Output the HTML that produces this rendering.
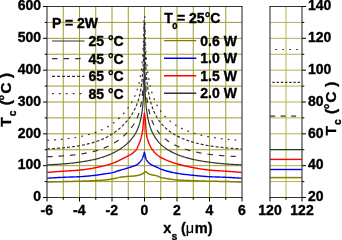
<!DOCTYPE html>
<html><head><meta charset="utf-8"><style>
html,body{margin:0;padding:0;background:#fff;}
svg{display:block;will-change:transform;}
</style></head><body>
<svg width="342" height="240" viewBox="0 0 342 240">
<rect width="342" height="240" fill="#fff"/>
<line x1="63.25" y1="6.5" x2="63.25" y2="197.5" stroke="#a09c30" stroke-width="1"/>
<line x1="79.50" y1="6.5" x2="79.50" y2="197.5" stroke="#a09c30" stroke-width="1"/>
<line x1="95.75" y1="6.5" x2="95.75" y2="197.5" stroke="#a09c30" stroke-width="1"/>
<line x1="112.00" y1="6.5" x2="112.00" y2="197.5" stroke="#a09c30" stroke-width="1"/>
<line x1="128.25" y1="6.5" x2="128.25" y2="197.5" stroke="#a09c30" stroke-width="1"/>
<line x1="144.50" y1="6.5" x2="144.50" y2="197.5" stroke="#a09c30" stroke-width="1"/>
<line x1="160.75" y1="6.5" x2="160.75" y2="197.5" stroke="#a09c30" stroke-width="1"/>
<line x1="177.00" y1="6.5" x2="177.00" y2="197.5" stroke="#a09c30" stroke-width="1"/>
<line x1="193.25" y1="6.5" x2="193.25" y2="197.5" stroke="#a09c30" stroke-width="1"/>
<line x1="209.50" y1="6.5" x2="209.50" y2="197.5" stroke="#a09c30" stroke-width="1"/>
<line x1="225.75" y1="6.5" x2="225.75" y2="197.5" stroke="#a09c30" stroke-width="1"/>
<line x1="47.0" y1="181.58" x2="242.0" y2="181.58" stroke="#a09c30" stroke-width="1"/>
<line x1="47.0" y1="165.67" x2="242.0" y2="165.67" stroke="#a09c30" stroke-width="1"/>
<line x1="47.0" y1="149.75" x2="242.0" y2="149.75" stroke="#a09c30" stroke-width="1"/>
<line x1="47.0" y1="133.83" x2="242.0" y2="133.83" stroke="#a09c30" stroke-width="1"/>
<line x1="47.0" y1="117.92" x2="242.0" y2="117.92" stroke="#a09c30" stroke-width="1"/>
<line x1="47.0" y1="102.00" x2="242.0" y2="102.00" stroke="#a09c30" stroke-width="1"/>
<line x1="47.0" y1="86.08" x2="242.0" y2="86.08" stroke="#a09c30" stroke-width="1"/>
<line x1="47.0" y1="70.17" x2="242.0" y2="70.17" stroke="#a09c30" stroke-width="1"/>
<line x1="47.0" y1="54.25" x2="242.0" y2="54.25" stroke="#a09c30" stroke-width="1"/>
<line x1="47.0" y1="38.33" x2="242.0" y2="38.33" stroke="#a09c30" stroke-width="1"/>
<line x1="47.0" y1="22.42" x2="242.0" y2="22.42" stroke="#a09c30" stroke-width="1"/>
<line x1="286.00" y1="6.5" x2="286.00" y2="197.5" stroke="#b6b248" stroke-width="1"/>
<line x1="270.0" y1="181.58" x2="302.0" y2="181.58" stroke="#b6b248" stroke-width="1"/>
<line x1="270.0" y1="165.67" x2="302.0" y2="165.67" stroke="#b6b248" stroke-width="1"/>
<line x1="270.0" y1="149.75" x2="302.0" y2="149.75" stroke="#b6b248" stroke-width="1"/>
<line x1="270.0" y1="133.83" x2="302.0" y2="133.83" stroke="#b6b248" stroke-width="1"/>
<line x1="270.0" y1="117.92" x2="302.0" y2="117.92" stroke="#b6b248" stroke-width="1"/>
<line x1="270.0" y1="102.00" x2="302.0" y2="102.00" stroke="#b6b248" stroke-width="1"/>
<line x1="270.0" y1="86.08" x2="302.0" y2="86.08" stroke="#b6b248" stroke-width="1"/>
<line x1="270.0" y1="70.17" x2="302.0" y2="70.17" stroke="#b6b248" stroke-width="1"/>
<line x1="270.0" y1="54.25" x2="302.0" y2="54.25" stroke="#b6b248" stroke-width="1"/>
<line x1="270.0" y1="38.33" x2="302.0" y2="38.33" stroke="#b6b248" stroke-width="1"/>
<line x1="270.0" y1="22.42" x2="302.0" y2="22.42" stroke="#b6b248" stroke-width="1"/>
<path d="M47.10,182.00 L48.08,181.98 L49.05,181.96 L50.03,181.94 L51.00,181.91 L51.98,181.89 L52.96,181.87 L53.93,181.85 L54.91,181.83 L55.88,181.80 L56.86,181.78 L57.83,181.76 L58.81,181.73 L59.79,181.71 L60.76,181.69 L61.74,181.66 L62.71,181.64 L63.69,181.61 L64.67,181.59 L65.64,181.56 L66.62,181.54 L67.59,181.51 L68.57,181.48 L69.54,181.46 L70.52,181.43 L71.50,181.40 L72.47,181.38 L73.45,181.35 L74.42,181.32 L75.40,181.29 L76.38,181.27 L77.35,181.24 L78.33,181.21 L79.30,181.18 L80.28,181.16 L81.25,181.13 L82.23,181.10 L83.21,181.07 L84.18,181.04 L85.16,181.01 L86.13,180.98 L87.11,180.95 L88.09,180.92 L89.06,180.89 L90.04,180.85 L91.01,180.82 L91.99,180.78 L92.96,180.74 L93.94,180.70 L94.92,180.65 L95.89,180.61 L96.87,180.55 L97.84,180.50 L98.82,180.44 L99.80,180.38 L100.77,180.32 L101.75,180.25 L102.72,180.17 L103.70,180.10 L104.67,180.01 L105.65,179.92 L106.63,179.82 L107.60,179.71 L108.58,179.59 L109.55,179.45 L110.53,179.28 L111.51,179.10 L112.48,178.91 L113.46,178.71 L114.43,178.51 L115.41,178.32 L116.38,178.10 L117.36,177.86 L118.34,177.62 L119.31,177.39 L120.29,177.19 L121.26,177.05 L122.24,176.94 L123.22,176.83 L124.19,176.73 L125.17,176.63 L126.14,176.55 L127.12,176.47 L128.09,176.41 L129.07,176.35 L130.05,176.30 L131.02,176.26 L132.00,176.20 L132.97,176.12 L133.95,176.01 L134.45,175.95 L134.65,175.93 L134.85,175.90 L135.05,175.87 L135.25,175.84 L135.45,175.81 L135.65,175.78 L135.85,175.75 L136.05,175.72 L136.25,175.68 L136.45,175.65 L136.65,175.61 L136.85,175.58 L137.05,175.54 L137.25,175.50 L137.45,175.47 L137.65,175.43 L137.85,175.39 L138.05,175.35 L138.25,175.31 L138.45,175.27 L138.65,175.23 L138.85,175.18 L139.05,175.13 L139.25,175.09 L139.45,175.04 L139.65,174.98 L139.85,174.93 L140.05,174.87 L140.25,174.82 L140.45,174.75 L140.65,174.69 L140.85,174.62 L141.05,174.55 L141.25,174.48 L141.45,174.40 L141.65,174.32 L141.85,174.23 L142.05,174.14 L142.25,174.04 L142.45,173.93 L142.55,173.87 L142.65,173.81 L142.75,173.74 L142.85,173.66 L142.95,173.58 L143.05,173.49 L143.15,173.40 L143.25,173.31 L143.35,173.21 L143.45,173.11 L143.55,173.02 L143.65,172.93 L143.75,172.85 L143.85,172.80 L143.95,172.76 L144.05,172.72 L144.15,172.68 L144.25,172.64 L144.35,172.61 L144.45,172.60 L144.55,172.32 L144.65,172.14 L144.75,172.02 L144.85,171.94 L144.95,171.89 L145.05,171.85 L145.15,171.83 L145.25,171.81 L145.35,171.81 L145.45,171.80 L145.55,171.80 L145.65,171.80 L145.75,171.80 L145.85,171.81 L145.95,171.85 L146.05,171.91 L146.15,171.98 L146.25,172.05 L146.35,172.13 L146.45,172.22 L146.65,172.38 L146.85,172.53 L147.05,172.67 L147.25,172.82 L147.45,172.98 L147.65,173.15 L147.85,173.30 L148.05,173.45 L148.25,173.59 L148.45,173.72 L148.65,173.83 L148.85,173.92 L149.05,174.01 L149.25,174.08 L149.45,174.15 L149.65,174.22 L149.85,174.28 L150.05,174.34 L150.25,174.39 L150.45,174.45 L150.65,174.50 L150.85,174.55 L151.05,174.60 L151.25,174.65 L151.45,174.70 L151.65,174.74 L151.85,174.79 L152.05,174.84 L152.25,174.89 L152.45,174.94 L152.65,174.98 L152.85,175.02 L153.05,175.07 L153.25,175.11 L153.45,175.14 L153.65,175.18 L153.85,175.22 L154.05,175.26 L154.25,175.30 L154.45,175.33 L154.95,175.43 L155.93,175.64 L156.90,175.87 L157.88,176.22 L158.85,176.67 L159.83,177.10 L160.81,177.43 L161.78,177.68 L162.76,177.89 L163.73,178.07 L164.71,178.24 L165.68,178.40 L166.66,178.55 L167.64,178.70 L168.61,178.85 L169.59,179.00 L170.56,179.16 L171.54,179.32 L172.52,179.48 L173.49,179.62 L174.47,179.75 L175.44,179.87 L176.42,179.96 L177.39,180.04 L178.37,180.10 L179.35,180.16 L180.32,180.21 L181.30,180.26 L182.27,180.31 L183.25,180.35 L184.23,180.39 L185.20,180.43 L186.18,180.46 L187.15,180.50 L188.13,180.53 L189.10,180.56 L190.08,180.60 L191.06,180.63 L192.03,180.66 L193.01,180.70 L193.98,180.73 L194.96,180.77 L195.94,180.80 L196.91,180.83 L197.89,180.87 L198.86,180.90 L199.84,180.93 L200.81,180.96 L201.79,180.99 L202.77,181.02 L203.74,181.05 L204.72,181.08 L205.69,181.11 L206.67,181.13 L207.65,181.16 L208.62,181.18 L209.60,181.21 L210.57,181.23 L211.55,181.25 L212.52,181.26 L213.50,181.28 L214.48,181.30 L215.45,181.31 L216.43,181.33 L217.40,181.34 L218.38,181.36 L219.36,181.38 L220.33,181.39 L221.31,181.41 L222.28,181.43 L223.26,181.45 L224.23,181.47 L225.21,181.49 L226.19,181.51 L227.16,181.54 L228.14,181.57 L229.11,181.60 L230.09,181.63 L231.07,181.67 L232.04,181.70 L233.02,181.74 L233.99,181.77 L234.97,181.81 L235.94,181.85 L236.92,181.89 L237.90,181.93 L238.87,181.97 L239.85,182.02 L240.82,182.06 L241.80,182.10" fill="none" stroke="#808000" stroke-width="1.5" />
<path d="M47.10,178.20 L48.08,178.14 L49.05,178.08 L50.03,178.02 L51.00,177.96 L51.98,177.90 L52.96,177.85 L53.93,177.79 L54.91,177.73 L55.88,177.68 L56.86,177.62 L57.83,177.57 L58.81,177.52 L59.79,177.47 L60.76,177.42 L61.74,177.37 L62.71,177.33 L63.69,177.28 L64.67,177.24 L65.64,177.21 L66.62,177.17 L67.59,177.14 L68.57,177.10 L69.54,177.07 L70.52,177.04 L71.50,177.01 L72.47,176.98 L73.45,176.95 L74.42,176.92 L75.40,176.88 L76.38,176.84 L77.35,176.81 L78.33,176.76 L79.30,176.71 L80.28,176.66 L81.25,176.60 L82.23,176.54 L83.21,176.47 L84.18,176.40 L85.16,176.32 L86.13,176.24 L87.11,176.16 L88.09,176.07 L89.06,175.97 L90.04,175.87 L91.01,175.77 L91.99,175.67 L92.96,175.56 L93.94,175.45 L94.92,175.33 L95.89,175.21 L96.87,175.09 L97.84,174.95 L98.82,174.81 L99.80,174.65 L100.77,174.50 L101.75,174.34 L102.72,174.19 L103.70,174.04 L104.67,173.91 L105.65,173.77 L106.63,173.65 L107.60,173.52 L108.58,173.38 L109.55,173.24 L110.53,173.08 L111.51,172.90 L112.48,172.69 L113.46,172.42 L114.43,172.10 L115.41,171.75 L116.38,171.40 L117.36,171.07 L118.34,170.77 L119.31,170.49 L120.29,170.21 L121.26,169.93 L122.24,169.66 L123.22,169.38 L124.19,169.10 L125.17,168.81 L126.14,168.53 L127.12,168.23 L128.09,167.93 L129.07,167.63 L130.05,167.33 L131.02,167.02 L132.00,166.70 L132.97,166.36 L133.95,166.02 L134.45,165.83 L134.65,165.76 L134.85,165.68 L135.05,165.60 L135.25,165.51 L135.45,165.43 L135.65,165.34 L135.85,165.24 L136.05,165.15 L136.25,165.05 L136.45,164.94 L136.65,164.83 L136.85,164.71 L137.05,164.59 L137.25,164.45 L137.45,164.32 L137.65,164.17 L137.85,164.02 L138.05,163.86 L138.25,163.69 L138.45,163.52 L138.65,163.33 L138.85,163.14 L139.05,162.95 L139.25,162.74 L139.45,162.53 L139.65,162.32 L139.85,162.10 L140.05,161.87 L140.25,161.64 L140.45,161.41 L140.65,161.16 L140.85,160.91 L141.05,160.64 L141.25,160.37 L141.45,160.07 L141.65,159.77 L141.85,159.44 L142.05,159.09 L142.25,158.72 L142.45,158.31 L142.55,158.09 L142.65,157.85 L142.75,157.60 L142.85,157.34 L142.95,157.06 L143.05,156.76 L143.15,156.45 L143.25,156.13 L143.35,155.81 L143.45,155.48 L143.55,155.16 L143.65,154.84 L143.75,154.52 L143.85,154.17 L143.95,153.81 L144.05,153.43 L144.15,153.04 L144.25,152.63 L144.35,152.21 L144.45,151.80 L144.55,152.50 L144.65,153.13 L144.75,153.70 L144.85,154.23 L144.95,154.73 L145.05,155.18 L145.15,155.61 L145.25,156.01 L145.35,156.39 L145.45,156.76 L145.55,157.13 L145.65,157.48 L145.75,157.82 L145.85,158.14 L145.95,158.44 L146.05,158.73 L146.15,158.99 L146.25,159.25 L146.35,159.48 L146.45,159.70 L146.65,160.09 L146.85,160.44 L147.05,160.76 L147.25,161.05 L147.45,161.33 L147.65,161.58 L147.85,161.82 L148.05,162.04 L148.25,162.26 L148.45,162.46 L148.65,162.66 L148.85,162.85 L149.05,163.03 L149.25,163.20 L149.45,163.36 L149.65,163.52 L149.85,163.67 L150.05,163.81 L150.25,163.95 L150.45,164.09 L150.65,164.22 L150.85,164.35 L151.05,164.48 L151.25,164.60 L151.45,164.72 L151.65,164.83 L151.85,164.95 L152.05,165.06 L152.25,165.17 L152.45,165.28 L152.65,165.39 L152.85,165.49 L153.05,165.58 L153.25,165.68 L153.45,165.77 L153.65,165.86 L153.85,165.95 L154.05,166.04 L154.25,166.13 L154.45,166.22 L154.95,166.43 L155.93,166.84 L156.90,167.26 L157.88,167.70 L158.85,168.18 L159.83,168.63 L160.81,169.04 L161.78,169.41 L162.76,169.77 L163.73,170.11 L164.71,170.43 L165.68,170.73 L166.66,171.02 L167.64,171.29 L168.61,171.55 L169.59,171.80 L170.56,172.04 L171.54,172.26 L172.52,172.47 L173.49,172.67 L174.47,172.86 L175.44,173.05 L176.42,173.22 L177.39,173.38 L178.37,173.54 L179.35,173.68 L180.32,173.83 L181.30,173.96 L182.27,174.09 L183.25,174.21 L184.23,174.33 L185.20,174.45 L186.18,174.56 L187.15,174.67 L188.13,174.78 L189.10,174.89 L190.08,174.99 L191.06,175.09 L192.03,175.19 L193.01,175.29 L193.98,175.39 L194.96,175.49 L195.94,175.59 L196.91,175.69 L197.89,175.79 L198.86,175.88 L199.84,175.98 L200.81,176.07 L201.79,176.16 L202.77,176.24 L203.74,176.32 L204.72,176.40 L205.69,176.47 L206.67,176.54 L207.65,176.60 L208.62,176.66 L209.60,176.71 L210.57,176.76 L211.55,176.80 L212.52,176.84 L213.50,176.88 L214.48,176.91 L215.45,176.95 L216.43,176.98 L217.40,177.01 L218.38,177.04 L219.36,177.07 L220.33,177.10 L221.31,177.14 L222.28,177.17 L223.26,177.21 L224.23,177.24 L225.21,177.28 L226.19,177.33 L227.16,177.37 L228.14,177.42 L229.11,177.47 L230.09,177.52 L231.07,177.57 L232.04,177.62 L233.02,177.68 L233.99,177.73 L234.97,177.79 L235.94,177.85 L236.92,177.90 L237.90,177.96 L238.87,178.02 L239.85,178.08 L240.82,178.14 L241.80,178.20" fill="none" stroke="#0000ff" stroke-width="1.4" />
<path d="M47.10,172.40 L48.08,172.33 L49.05,172.25 L50.03,172.18 L51.00,172.11 L51.98,172.03 L52.96,171.96 L53.93,171.88 L54.91,171.81 L55.88,171.74 L56.86,171.67 L57.83,171.59 L58.81,171.52 L59.79,171.45 L60.76,171.38 L61.74,171.31 L62.71,171.24 L63.69,171.17 L64.67,171.11 L65.64,171.04 L66.62,170.98 L67.59,170.92 L68.57,170.86 L69.54,170.80 L70.52,170.75 L71.50,170.69 L72.47,170.63 L73.45,170.57 L74.42,170.50 L75.40,170.44 L76.38,170.37 L77.35,170.29 L78.33,170.21 L79.30,170.12 L80.28,170.03 L81.25,169.93 L82.23,169.82 L83.21,169.70 L84.18,169.57 L85.16,169.44 L86.13,169.31 L87.11,169.16 L88.09,169.01 L89.06,168.85 L90.04,168.69 L91.01,168.52 L91.99,168.35 L92.96,168.17 L93.94,167.99 L94.92,167.81 L95.89,167.62 L96.87,167.43 L97.84,167.24 L98.82,167.04 L99.80,166.83 L100.77,166.61 L101.75,166.39 L102.72,166.16 L103.70,165.92 L104.67,165.68 L105.65,165.42 L106.63,165.16 L107.60,164.88 L108.58,164.60 L109.55,164.30 L110.53,163.99 L111.51,163.67 L112.48,163.33 L113.46,162.97 L114.43,162.58 L115.41,162.17 L116.38,161.74 L117.36,161.29 L118.34,160.82 L119.31,160.34 L120.29,159.85 L121.26,159.36 L122.24,158.88 L123.22,158.40 L124.19,157.90 L125.17,157.40 L126.14,156.88 L127.12,156.37 L128.09,155.85 L129.07,155.37 L130.05,154.87 L131.02,154.28 L132.00,153.61 L132.97,152.86 L133.95,152.04 L134.45,151.61 L134.65,151.44 L134.85,151.26 L135.05,151.08 L135.25,150.89 L135.45,150.70 L135.65,150.49 L135.85,150.27 L136.05,150.03 L136.25,149.77 L136.45,149.48 L136.65,149.15 L136.85,148.79 L137.05,148.40 L137.25,147.97 L137.45,147.52 L137.65,147.05 L137.85,146.57 L138.05,146.08 L138.25,145.59 L138.45,145.12 L138.65,144.65 L138.85,144.19 L139.05,143.72 L139.25,143.24 L139.45,142.76 L139.65,142.26 L139.85,141.75 L140.05,141.22 L140.25,140.67 L140.45,140.09 L140.65,139.48 L140.85,138.82 L141.05,138.12 L141.25,137.38 L141.45,136.61 L141.65,135.79 L141.85,134.92 L142.05,133.97 L142.25,132.92 L142.45,131.74 L142.55,131.08 L142.65,130.38 L142.75,129.59 L142.85,128.66 L142.95,127.58 L143.05,126.37 L143.15,125.09 L143.25,123.79 L143.35,122.53 L143.45,121.44 L143.55,120.60 L143.65,119.76 L143.75,118.88 L143.85,117.98 L143.95,117.05 L144.05,116.12 L144.15,115.21 L144.25,114.40 L144.35,113.77 L144.45,113.60 L144.55,113.75 L144.65,114.33 L144.75,115.10 L144.85,115.97 L144.95,116.89 L145.05,117.82 L145.15,118.75 L145.25,119.67 L145.35,120.56 L145.45,121.52 L145.55,122.92 L145.65,124.56 L145.75,126.20 L145.85,127.67 L145.95,128.89 L146.05,130.04 L146.15,131.15 L146.25,132.20 L146.35,133.17 L146.45,134.06 L146.65,135.59 L146.85,136.76 L147.05,137.69 L147.25,138.46 L147.45,139.13 L147.65,139.72 L147.85,140.28 L148.05,140.81 L148.25,141.34 L148.45,141.87 L148.65,142.40 L148.85,142.93 L149.05,143.44 L149.25,143.94 L149.45,144.42 L149.65,144.89 L149.85,145.34 L150.05,145.77 L150.25,146.19 L150.45,146.59 L150.65,146.97 L150.85,147.34 L151.05,147.69 L151.25,148.02 L151.45,148.34 L151.65,148.65 L151.85,148.94 L152.05,149.23 L152.25,149.52 L152.45,149.79 L152.65,150.07 L152.85,150.34 L153.05,150.60 L153.25,150.86 L153.45,151.11 L153.65,151.36 L153.85,151.61 L154.05,151.85 L154.25,152.08 L154.45,152.30 L154.95,152.85 L155.93,153.83 L156.90,154.72 L157.88,155.51 L158.85,156.19 L159.83,156.79 L160.81,157.36 L161.78,157.90 L162.76,158.42 L163.73,158.90 L164.71,159.37 L165.68,159.81 L166.66,160.23 L167.64,160.64 L168.61,161.02 L169.59,161.40 L170.56,161.76 L171.54,162.10 L172.52,162.43 L173.49,162.76 L174.47,163.07 L175.44,163.37 L176.42,163.66 L177.39,163.94 L178.37,164.22 L179.35,164.49 L180.32,164.75 L181.30,165.00 L182.27,165.25 L183.25,165.50 L184.23,165.73 L185.20,165.96 L186.18,166.18 L187.15,166.40 L188.13,166.61 L189.10,166.82 L190.08,167.02 L191.06,167.21 L192.03,167.40 L193.01,167.58 L193.98,167.76 L194.96,167.95 L195.94,168.13 L196.91,168.30 L197.89,168.48 L198.86,168.65 L199.84,168.82 L200.81,168.98 L201.79,169.13 L202.77,169.28 L203.74,169.43 L204.72,169.56 L205.69,169.69 L206.67,169.81 L207.65,169.92 L208.62,170.03 L209.60,170.12 L210.57,170.21 L211.55,170.29 L212.52,170.37 L213.50,170.44 L214.48,170.50 L215.45,170.57 L216.43,170.63 L217.40,170.69 L218.38,170.75 L219.36,170.81 L220.33,170.86 L221.31,170.92 L222.28,170.98 L223.26,171.04 L224.23,171.11 L225.21,171.17 L226.19,171.24 L227.16,171.31 L228.14,171.38 L229.11,171.45 L230.09,171.52 L231.07,171.59 L232.04,171.67 L233.02,171.74 L233.99,171.81 L234.97,171.88 L235.94,171.96 L236.92,172.03 L237.90,172.11 L238.87,172.18 L239.85,172.25 L240.82,172.33 L241.80,172.40" fill="none" stroke="#ff0000" stroke-width="1.4" />
<path d="M47.10,164.86 L48.08,164.82 L49.05,164.77 L50.03,164.73 L51.00,164.68 L51.98,164.63 L52.96,164.58 L53.93,164.53 L54.91,164.47 L55.88,164.41 L56.86,164.35 L57.83,164.29 L58.81,164.23 L59.79,164.16 L60.76,164.09 L61.74,164.02 L62.71,163.94 L63.69,163.87 L64.67,163.79 L65.64,163.70 L66.62,163.62 L67.59,163.53 L68.57,163.44 L69.54,163.34 L70.52,163.24 L71.50,163.14 L72.47,163.03 L73.45,162.93 L74.42,162.81 L75.40,162.70 L76.38,162.58 L77.35,162.45 L78.33,162.32 L79.30,162.19 L80.28,162.05 L81.25,161.91 L82.23,161.76 L83.21,161.61 L84.18,161.46 L85.16,161.29 L86.13,161.12 L87.11,160.95 L88.09,160.77 L89.06,160.58 L90.04,160.39 L91.01,160.19 L91.99,159.98 L92.96,159.77 L93.94,159.55 L94.92,159.32 L95.89,159.08 L96.87,158.83 L97.84,158.58 L98.82,158.31 L99.80,158.03 L100.77,157.75 L101.75,157.45 L102.72,157.14 L103.70,156.82 L104.67,156.49 L105.65,156.14 L106.63,155.78 L107.60,155.41 L108.58,155.02 L109.55,154.62 L110.53,154.20 L111.51,153.76 L112.48,153.31 L113.46,152.84 L114.43,152.35 L115.41,151.83 L116.38,151.30 L117.36,150.75 L118.34,150.17 L119.31,149.56 L120.29,148.94 L121.26,148.28 L122.24,147.59 L123.22,146.88 L124.19,146.13 L125.17,145.34 L126.14,144.52 L127.12,143.65 L128.09,142.74 L129.07,141.77 L130.05,140.75 L131.02,139.65 L132.00,138.48 L132.97,137.21 L133.95,135.83 L134.45,135.08 L134.65,134.76 L134.85,134.44 L135.05,134.11 L135.25,133.78 L135.45,133.43 L135.65,133.08 L135.85,132.72 L136.05,132.35 L136.25,131.98 L136.45,131.59 L136.65,131.19 L136.85,130.78 L137.05,130.36 L137.25,129.92 L137.45,129.48 L137.65,129.02 L137.85,128.54 L138.05,128.05 L138.25,127.54 L138.45,127.01 L138.65,126.47 L138.85,125.90 L139.05,125.31 L139.25,124.70 L139.45,124.06 L139.65,123.39 L139.85,122.69 L140.05,121.96 L140.25,121.19 L140.45,120.38 L140.65,119.53 L140.85,118.63 L141.05,117.67 L141.25,116.65 L141.45,115.56 L141.65,114.39 L141.85,113.14 L142.05,111.77 L142.25,110.29 L142.45,108.66 L142.55,107.78 L142.65,106.86 L142.75,105.88 L142.85,104.84 L142.95,103.73 L143.05,102.55 L143.15,101.28 L143.25,99.91 L143.35,98.42 L143.45,96.80 L143.55,95.01 L143.65,93.01 L143.75,90.76 L143.85,88.19 L143.95,85.18 L144.05,81.55 L144.15,77.00 L144.25,70.89 L144.35,61.57 L144.45,41.18 L144.55,61.57 L144.65,70.90 L144.75,77.01 L144.85,81.56 L144.95,85.19 L145.05,88.21 L145.15,90.79 L145.25,93.04 L145.35,95.04 L145.45,96.84 L145.55,98.47 L145.65,99.97 L145.75,101.35 L145.85,102.62 L145.95,103.82 L146.05,104.93 L146.15,105.98 L146.25,106.98 L146.35,107.91 L146.45,108.80 L146.65,110.46 L146.85,111.97 L147.05,113.36 L147.25,114.65 L147.45,115.85 L147.65,116.97 L147.85,118.02 L148.05,119.01 L148.25,119.94 L148.45,120.83 L148.65,121.67 L148.85,122.48 L149.05,123.24 L149.25,123.98 L149.45,124.68 L149.65,125.35 L149.85,126.00 L150.05,126.62 L150.25,127.22 L150.45,127.80 L150.65,128.36 L150.85,128.90 L151.05,129.42 L151.25,129.93 L151.45,130.42 L151.65,130.90 L151.85,131.36 L152.05,131.81 L152.25,132.25 L152.45,132.68 L152.65,133.09 L152.85,133.49 L153.05,133.89 L153.25,134.27 L153.45,134.65 L153.65,135.01 L153.85,135.37 L154.05,135.72 L154.25,136.06 L154.45,136.40 L154.95,137.20 L155.93,138.66 L156.90,139.99 L157.88,141.21 L158.85,142.33 L159.83,143.37 L160.81,144.34 L161.78,145.24 L162.76,146.09 L163.73,146.89 L164.71,147.64 L165.68,148.34 L166.66,149.01 L167.64,149.65 L168.61,150.25 L169.59,150.82 L170.56,151.37 L171.54,151.89 L172.52,152.39 L173.49,152.87 L174.47,153.32 L175.44,153.76 L176.42,154.18 L177.39,154.58 L178.37,154.97 L179.35,155.34 L180.32,155.69 L181.30,156.04 L182.27,156.37 L183.25,156.69 L184.23,157.00 L185.20,157.29 L186.18,157.58 L187.15,157.86 L188.13,158.12 L189.10,158.38 L190.08,158.63 L191.06,158.87 L192.03,159.11 L193.01,159.33 L193.98,159.55 L194.96,159.76 L195.94,159.97 L196.91,160.17 L197.89,160.36 L198.86,160.54 L199.84,160.72 L200.81,160.90 L201.79,161.07 L202.77,161.23 L203.74,161.39 L204.72,161.55 L205.69,161.69 L206.67,161.84 L207.65,161.98 L208.62,162.12 L209.60,162.25 L210.57,162.38 L211.55,162.50 L212.52,162.62 L213.50,162.74 L214.48,162.85 L215.45,162.96 L216.43,163.06 L217.40,163.17 L218.38,163.27 L219.36,163.36 L220.33,163.46 L221.31,163.55 L222.28,163.63 L223.26,163.72 L224.23,163.80 L225.21,163.88 L226.19,163.95 L227.16,164.03 L228.14,164.10 L229.11,164.17 L230.09,164.23 L231.07,164.30 L232.04,164.36 L233.02,164.42 L233.99,164.48 L234.97,164.53 L235.94,164.59 L236.92,164.64 L237.90,164.69 L238.87,164.73 L239.85,164.78 L240.82,164.82 L241.80,164.86" fill="none" stroke="#333" stroke-width="1.2" />
<path d="M47.10,156.69 L48.08,156.66 L49.05,156.63 L50.03,156.60 L51.00,156.56 L51.98,156.53 L52.96,156.49 L53.93,156.45 L54.91,156.40 L55.88,156.35 L56.86,156.30 L57.83,156.25 L58.81,156.20 L59.79,156.14 L60.76,156.08 L61.74,156.01 L62.71,155.95 L63.69,155.88 L64.67,155.80 L65.64,155.73 L66.62,155.65 L67.59,155.56 L68.57,155.47 L69.54,155.38 L70.52,155.29 L71.50,155.19 L72.47,155.09 L73.45,154.98 L74.42,154.87 L75.40,154.75 L76.38,154.63 L77.35,154.50 L78.33,154.37 L79.30,154.23 L80.28,154.09 L81.25,153.94 L82.23,153.79 L83.21,153.63 L84.18,153.46 L85.16,153.29 L86.13,153.11 L87.11,152.92 L88.09,152.72 L89.06,152.52 L90.04,152.31 L91.01,152.08 L91.99,151.85 L92.96,151.61 L93.94,151.36 L94.92,151.10 L95.89,150.83 L96.87,150.55 L97.84,150.26 L98.82,149.95 L99.80,149.63 L100.77,149.30 L101.75,148.95 L102.72,148.59 L103.70,148.21 L104.67,147.82 L105.65,147.41 L106.63,146.98 L107.60,146.53 L108.58,146.07 L109.55,145.58 L110.53,145.08 L111.51,144.56 L112.48,144.01 L113.46,143.44 L114.43,142.85 L115.41,142.23 L116.38,141.59 L117.36,140.92 L118.34,140.23 L119.31,139.51 L120.29,138.76 L121.26,137.98 L122.24,137.17 L123.22,136.33 L124.19,135.46 L125.17,134.55 L126.14,133.60 L127.12,132.61 L128.09,131.58 L129.07,130.49 L130.05,129.35 L131.02,128.15 L132.00,126.87 L132.97,125.49 L133.95,124.01 L134.45,123.19 L134.65,122.85 L134.85,122.51 L135.05,122.16 L135.25,121.80 L135.45,121.43 L135.65,121.06 L135.85,120.67 L136.05,120.28 L136.25,119.87 L136.45,119.45 L136.65,119.03 L136.85,118.59 L137.05,118.14 L137.25,117.67 L137.45,117.19 L137.65,116.69 L137.85,116.18 L138.05,115.65 L138.25,115.10 L138.45,114.53 L138.65,113.94 L138.85,113.32 L139.05,112.68 L139.25,112.01 L139.45,111.31 L139.65,110.58 L139.85,109.81 L140.05,109.00 L140.25,108.15 L140.45,107.26 L140.65,106.31 L140.85,105.31 L141.05,104.24 L141.25,103.09 L141.45,101.87 L141.65,100.55 L141.85,99.13 L142.05,97.58 L142.25,95.89 L142.45,94.03 L142.55,93.02 L142.65,91.96 L142.75,90.83 L142.85,89.63 L142.95,88.35 L143.05,86.98 L143.15,85.50 L143.25,83.90 L143.35,82.16 L143.45,80.25 L143.55,78.14 L143.65,75.77 L143.75,73.09 L143.85,69.99 L143.95,66.33 L144.05,61.86 L144.15,56.13 L144.25,48.13 L144.35,34.83 L144.45,22.00 L144.55,34.84 L144.65,48.14 L144.75,56.14 L144.85,61.88 L144.95,66.36 L145.05,70.02 L145.15,73.13 L145.25,75.83 L145.35,78.21 L145.45,80.34 L145.55,82.26 L145.65,84.02 L145.75,85.64 L145.85,87.13 L145.95,88.53 L146.05,89.83 L146.15,91.05 L146.25,92.20 L146.35,93.29 L146.45,94.33 L146.65,96.24 L146.85,97.99 L147.05,99.60 L147.25,101.08 L147.45,102.46 L147.65,103.75 L147.85,104.96 L148.05,106.09 L148.25,107.17 L148.45,108.18 L148.65,109.15 L148.85,110.07 L149.05,110.94 L149.25,111.78 L149.45,112.58 L149.65,113.35 L149.85,114.09 L150.05,114.80 L150.25,115.49 L150.45,116.15 L150.65,116.79 L150.85,117.40 L151.05,118.00 L151.25,118.58 L151.45,119.13 L151.65,119.68 L151.85,120.20 L152.05,120.72 L152.25,121.21 L152.45,121.70 L152.65,122.17 L152.85,122.63 L153.05,123.07 L153.25,123.51 L153.45,123.94 L153.65,124.35 L153.85,124.76 L154.05,125.15 L154.25,125.54 L154.45,125.92 L154.95,126.83 L155.93,128.48 L156.90,129.98 L157.88,131.35 L158.85,132.62 L159.83,133.79 L160.81,134.87 L161.78,135.89 L162.76,136.84 L163.73,137.73 L164.71,138.56 L165.68,139.35 L166.66,140.10 L167.64,140.80 L168.61,141.47 L169.59,142.11 L170.56,142.71 L171.54,143.29 L172.52,143.84 L173.49,144.36 L174.47,144.86 L175.44,145.34 L176.42,145.80 L177.39,146.24 L178.37,146.66 L179.35,147.06 L180.32,147.45 L181.30,147.83 L182.27,148.18 L183.25,148.53 L184.23,148.86 L185.20,149.18 L186.18,149.49 L187.15,149.78 L188.13,150.07 L189.10,150.35 L190.08,150.61 L191.06,150.87 L192.03,151.11 L193.01,151.35 L193.98,151.58 L194.96,151.80 L195.94,152.02 L196.91,152.23 L197.89,152.43 L198.86,152.62 L199.84,152.81 L200.81,152.99 L201.79,153.16 L202.77,153.33 L203.74,153.49 L204.72,153.65 L205.69,153.80 L206.67,153.94 L207.65,154.08 L208.62,154.22 L209.60,154.35 L210.57,154.48 L211.55,154.60 L212.52,154.72 L213.50,154.83 L214.48,154.94 L215.45,155.05 L216.43,155.15 L217.40,155.24 L218.38,155.34 L219.36,155.43 L220.33,155.52 L221.31,155.60 L222.28,155.68 L223.26,155.76 L224.23,155.83 L225.21,155.90 L226.19,155.97 L227.16,156.03 L228.14,156.10 L229.11,156.16 L230.09,156.21 L231.07,156.27 L232.04,156.32 L233.02,156.37 L233.99,156.41 L234.97,156.45 L235.94,156.50 L236.92,156.53 L237.90,156.57 L238.87,156.61 L239.85,156.64 L240.82,156.67 L241.80,156.70" fill="none" stroke="#333" stroke-width="1.2" stroke-dasharray="5.5 6"/>
<path d="M47.10,148.90 L48.08,148.86 L49.05,148.81 L50.03,148.77 L51.00,148.71 L51.98,148.66 L52.96,148.60 L53.93,148.54 L54.91,148.48 L55.88,148.42 L56.86,148.35 L57.83,148.28 L58.81,148.20 L59.79,148.13 L60.76,148.04 L61.74,147.96 L62.71,147.87 L63.69,147.78 L64.67,147.69 L65.64,147.59 L66.62,147.48 L67.59,147.38 L68.57,147.27 L69.54,147.15 L70.52,147.03 L71.50,146.91 L72.47,146.78 L73.45,146.64 L74.42,146.51 L75.40,146.36 L76.38,146.21 L77.35,146.06 L78.33,145.90 L79.30,145.73 L80.28,145.56 L81.25,145.38 L82.23,145.19 L83.21,145.00 L84.18,144.79 L85.16,144.59 L86.13,144.37 L87.11,144.15 L88.09,143.91 L89.06,143.67 L90.04,143.42 L91.01,143.16 L91.99,142.89 L92.96,142.60 L93.94,142.31 L94.92,142.01 L95.89,141.69 L96.87,141.36 L97.84,141.02 L98.82,140.66 L99.80,140.29 L100.77,139.91 L101.75,139.51 L102.72,139.09 L103.70,138.65 L104.67,138.20 L105.65,137.73 L106.63,137.24 L107.60,136.73 L108.58,136.20 L109.55,135.65 L110.53,135.07 L111.51,134.47 L112.48,133.85 L113.46,133.20 L114.43,132.52 L115.41,131.82 L116.38,131.09 L117.36,130.33 L118.34,129.54 L119.31,128.72 L120.29,127.86 L121.26,126.97 L122.24,126.05 L123.22,125.08 L124.19,124.08 L125.17,123.04 L126.14,121.94 L127.12,120.80 L128.09,119.61 L129.07,118.35 L130.05,117.03 L131.02,115.62 L132.00,114.12 L132.97,112.51 L133.95,110.77 L134.45,109.81 L134.65,109.42 L134.85,109.01 L135.05,108.60 L135.25,108.18 L135.45,107.75 L135.65,107.31 L135.85,106.85 L136.05,106.39 L136.25,105.91 L136.45,105.42 L136.65,104.92 L136.85,104.41 L137.05,103.88 L137.25,103.33 L137.45,102.77 L137.65,102.18 L137.85,101.58 L138.05,100.96 L138.25,100.32 L138.45,99.65 L138.65,98.96 L138.85,98.24 L139.05,97.48 L139.25,96.70 L139.45,95.89 L139.65,95.03 L139.85,94.14 L140.05,93.20 L140.25,92.21 L140.45,91.17 L140.65,90.07 L140.85,88.90 L141.05,87.66 L141.25,86.33 L141.45,84.91 L141.65,83.39 L141.85,81.74 L142.05,79.95 L142.25,78.00 L142.45,75.85 L142.55,74.69 L142.65,73.46 L142.75,72.16 L142.85,70.77 L142.95,69.30 L143.05,67.72 L143.15,66.02 L143.25,64.18 L143.35,62.17 L143.45,59.97 L143.55,57.54 L143.65,54.82 L143.75,51.73 L143.85,48.17 L143.95,43.96 L144.05,38.83 L144.15,32.23 L144.25,23.04 L144.35,22.00 L144.45,22.00 L144.55,22.00 L144.65,23.04 L144.75,32.24 L144.85,38.84 L144.95,43.99 L145.05,48.20 L145.15,51.78 L145.25,54.87 L145.35,57.61 L145.45,60.06 L145.55,62.27 L145.65,64.29 L145.75,66.15 L145.85,67.87 L145.95,69.48 L146.05,70.97 L146.15,72.38 L146.25,73.70 L146.35,74.96 L146.45,76.15 L146.65,78.35 L146.85,80.36 L147.05,82.21 L147.25,83.92 L147.45,85.50 L147.65,86.99 L147.85,88.38 L148.05,89.68 L148.25,90.92 L148.45,92.09 L148.65,93.20 L148.85,94.26 L149.05,95.27 L149.25,96.24 L149.45,97.16 L149.65,98.05 L149.85,98.90 L150.05,99.72 L150.25,100.51 L150.45,101.27 L150.65,102.00 L150.85,102.71 L151.05,103.40 L151.25,104.07 L151.45,104.71 L151.65,105.34 L151.85,105.94 L152.05,106.53 L152.25,107.11 L152.45,107.67 L152.65,108.21 L152.85,108.74 L153.05,109.26 L153.25,109.76 L153.45,110.25 L153.65,110.73 L153.85,111.20 L154.05,111.66 L154.25,112.11 L154.45,112.54 L154.95,113.60 L155.93,115.50 L156.90,117.24 L157.88,118.83 L158.85,120.29 L159.83,121.65 L160.81,122.91 L161.78,124.08 L162.76,125.18 L163.73,126.22 L164.71,127.19 L165.68,128.11 L166.66,128.97 L167.64,129.80 L168.61,130.58 L169.59,131.32 L170.56,132.02 L171.54,132.70 L172.52,133.34 L173.49,133.95 L174.47,134.54 L175.44,135.10 L176.42,135.64 L177.39,136.15 L178.37,136.65 L179.35,137.13 L180.32,137.58 L181.30,138.02 L182.27,138.45 L183.25,138.85 L184.23,139.25 L185.20,139.62 L186.18,139.99 L187.15,140.34 L188.13,140.68 L189.10,141.01 L190.08,141.32 L191.06,141.63 L192.03,141.92 L193.01,142.21 L193.98,142.49 L194.96,142.75 L195.94,143.01 L196.91,143.26 L197.89,143.50 L198.86,143.73 L199.84,143.96 L200.81,144.18 L201.79,144.39 L202.77,144.59 L203.74,144.79 L204.72,144.98 L205.69,145.16 L206.67,145.34 L207.65,145.52 L208.62,145.68 L209.60,145.85 L210.57,146.00 L211.55,146.15 L212.52,146.30 L213.50,146.44 L214.48,146.58 L215.45,146.71 L216.43,146.84 L217.40,146.96 L218.38,147.08 L219.36,147.20 L220.33,147.31 L221.31,147.42 L222.28,147.52 L223.26,147.62 L224.23,147.71 L225.21,147.81 L226.19,147.90 L227.16,147.98 L228.14,148.06 L229.11,148.14 L230.09,148.22 L231.07,148.29 L232.04,148.36 L233.02,148.43 L233.99,148.49 L234.97,148.55 L235.94,148.61 L236.92,148.67 L237.90,148.72 L238.87,148.77 L239.85,148.82 L240.82,148.87 L241.80,148.91" fill="none" stroke="#333" stroke-width="1.2" stroke-dasharray="3 2"/>
<path d="M47.10,140.38 L48.08,140.33 L49.05,140.28 L50.03,140.22 L51.00,140.16 L51.98,140.10 L52.96,140.04 L53.93,139.97 L54.91,139.90 L55.88,139.83 L56.86,139.75 L57.83,139.67 L58.81,139.59 L59.79,139.50 L60.76,139.41 L61.74,139.31 L62.71,139.21 L63.69,139.11 L64.67,139.01 L65.64,138.89 L66.62,138.78 L67.59,138.66 L68.57,138.53 L69.54,138.41 L70.52,138.27 L71.50,138.13 L72.47,137.99 L73.45,137.84 L74.42,137.68 L75.40,137.52 L76.38,137.35 L77.35,137.18 L78.33,137.00 L79.30,136.82 L80.28,136.62 L81.25,136.42 L82.23,136.21 L83.21,136.00 L84.18,135.78 L85.16,135.54 L86.13,135.30 L87.11,135.05 L88.09,134.79 L89.06,134.53 L90.04,134.25 L91.01,133.96 L91.99,133.66 L92.96,133.34 L93.94,133.02 L94.92,132.68 L95.89,132.33 L96.87,131.97 L97.84,131.59 L98.82,131.20 L99.80,130.79 L100.77,130.36 L101.75,129.92 L102.72,129.46 L103.70,128.98 L104.67,128.48 L105.65,127.96 L106.63,127.42 L107.60,126.86 L108.58,126.27 L109.55,125.66 L110.53,125.03 L111.51,124.37 L112.48,123.68 L113.46,122.97 L114.43,122.22 L115.41,121.45 L116.38,120.64 L117.36,119.81 L118.34,118.93 L119.31,118.03 L120.29,117.08 L121.26,116.10 L122.24,115.08 L123.22,114.01 L124.19,112.90 L125.17,111.74 L126.14,110.53 L127.12,109.26 L128.09,107.93 L129.07,106.53 L130.05,105.05 L131.02,103.47 L132.00,101.80 L132.97,99.99 L133.95,98.04 L134.45,96.96 L134.65,96.52 L134.85,96.06 L135.05,95.60 L135.25,95.12 L135.45,94.64 L135.65,94.14 L135.85,93.63 L136.05,93.11 L136.25,92.58 L136.45,92.03 L136.65,91.47 L136.85,90.89 L137.05,90.29 L137.25,89.67 L137.45,89.04 L137.65,88.39 L137.85,87.71 L138.05,87.01 L138.25,86.29 L138.45,85.54 L138.65,84.76 L138.85,83.95 L139.05,83.11 L139.25,82.23 L139.45,81.32 L139.65,80.36 L139.85,79.36 L140.05,78.31 L140.25,77.20 L140.45,76.03 L140.65,74.80 L140.85,73.49 L141.05,72.10 L141.25,70.62 L141.45,69.03 L141.65,67.33 L141.85,65.49 L142.05,63.49 L142.25,61.31 L142.45,58.91 L142.55,57.61 L142.65,56.24 L142.75,54.79 L142.85,53.25 L142.95,51.60 L143.05,49.84 L143.15,47.94 L143.25,45.89 L143.35,43.66 L143.45,41.21 L143.55,38.50 L143.65,35.46 L143.75,32.02 L143.85,28.05 L143.95,23.36 L144.05,17.64 L144.15,16.00 L144.25,16.00 L144.35,16.00 L144.45,16.00 L144.55,16.00 L144.65,16.00 L144.75,16.00 L144.85,17.66 L144.95,23.39 L145.05,28.09 L145.15,32.07 L145.25,35.52 L145.35,38.57 L145.45,41.29 L145.55,43.76 L145.65,46.01 L145.75,48.08 L145.85,50.00 L145.95,51.79 L146.05,53.45 L146.15,55.02 L146.25,56.50 L146.35,57.89 L146.45,59.22 L146.65,61.67 L146.85,63.91 L147.05,65.97 L147.25,67.87 L147.45,69.64 L147.65,71.29 L147.85,72.84 L148.05,74.30 L148.25,75.68 L148.45,76.98 L148.65,78.22 L148.85,79.40 L149.05,80.53 L149.25,81.60 L149.45,82.63 L149.65,83.62 L149.85,84.57 L150.05,85.48 L150.25,86.36 L150.45,87.21 L150.65,88.03 L150.85,88.82 L151.05,89.58 L151.25,90.33 L151.45,91.05 L151.65,91.74 L151.85,92.42 L152.05,93.08 L152.25,93.72 L152.45,94.34 L152.65,94.95 L152.85,95.54 L153.05,96.11 L153.25,96.67 L153.45,97.22 L153.65,97.75 L153.85,98.28 L154.05,98.79 L154.25,99.29 L154.45,99.77 L154.95,100.95 L155.93,103.07 L156.90,105.01 L157.88,106.78 L158.85,108.41 L159.83,109.92 L160.81,111.33 L161.78,112.64 L162.76,113.86 L163.73,115.02 L164.71,116.10 L165.68,117.12 L166.66,118.09 L167.64,119.01 L168.61,119.88 L169.59,120.71 L170.56,121.49 L171.54,122.24 L172.52,122.96 L173.49,123.64 L174.47,124.30 L175.44,124.93 L176.42,125.53 L177.39,126.10 L178.37,126.66 L179.35,127.19 L180.32,127.70 L181.30,128.19 L182.27,128.66 L183.25,129.12 L184.23,129.56 L185.20,129.98 L186.18,130.39 L187.15,130.78 L188.13,131.16 L189.10,131.52 L190.08,131.88 L191.06,132.22 L192.03,132.55 L193.01,132.87 L193.98,133.18 L194.96,133.47 L195.94,133.76 L196.91,134.04 L197.89,134.31 L198.86,134.57 L199.84,134.82 L200.81,135.07 L201.79,135.30 L202.77,135.53 L203.74,135.75 L204.72,135.97 L205.69,136.17 L206.67,136.37 L207.65,136.57 L208.62,136.75 L209.60,136.94 L210.57,137.11 L211.55,137.28 L212.52,137.45 L213.50,137.61 L214.48,137.76 L215.45,137.91 L216.43,138.05 L217.40,138.19 L218.38,138.32 L219.36,138.45 L220.33,138.58 L221.31,138.70 L222.28,138.81 L223.26,138.93 L224.23,139.03 L225.21,139.14 L226.19,139.24 L227.16,139.34 L228.14,139.43 L229.11,139.52 L230.09,139.60 L231.07,139.69 L232.04,139.76 L233.02,139.84 L233.99,139.91 L234.97,139.98 L235.94,140.05 L236.92,140.11 L237.90,140.17 L238.87,140.23 L239.85,140.28 L240.82,140.34 L241.80,140.39" fill="none" stroke="#333" stroke-width="1.2" stroke-dasharray="1.8 5.1"/>
<line x1="270.0" y1="177.60" x2="302.0" y2="177.60" stroke="#808000" stroke-width="1.5" />
<line x1="270.0" y1="169.50" x2="302.0" y2="169.50" stroke="#0000ff" stroke-width="1.4" />
<line x1="270.0" y1="159.40" x2="302.0" y2="159.40" stroke="#ff0000" stroke-width="1.4" />
<line x1="270.0" y1="149.60" x2="302.0" y2="149.60" stroke="#333" stroke-width="1.2" />
<line x1="270.1" y1="116.20" x2="299" y2="116.20" stroke="#333" stroke-width="1.2" stroke-dasharray="5 5.5"/>
<line x1="272.4" y1="82.40" x2="301.2" y2="82.40" stroke="#333" stroke-width="1.2" stroke-dasharray="2.4 1.8"/>
<line x1="275.4" y1="49.50" x2="299" y2="49.50" stroke="#333" stroke-width="1.2" stroke-dasharray="1.8 5.1"/>
<text x="52.00" y="28.00" text-anchor="start" font-size="14" font-family="'Liberation Sans', sans-serif" font-weight="bold" stroke="#000" stroke-width="0.35" >P = 2W</text>
<line x1="52" y1="41.0" x2="84.5" y2="41.0" stroke="#333" stroke-width="1.2" />
<text x="88.50" y="46.00" text-anchor="start" font-size="14" font-family="'Liberation Sans', sans-serif" font-weight="bold" stroke="#000" stroke-width="0.35" >25 °C</text>
<line x1="52" y1="58.6" x2="84.5" y2="58.6" stroke="#333" stroke-width="1.2" stroke-dasharray="5.5 6.1"/>
<text x="88.50" y="63.60" text-anchor="start" font-size="14" font-family="'Liberation Sans', sans-serif" font-weight="bold" stroke="#000" stroke-width="0.35" >45 °C</text>
<line x1="52" y1="76.3" x2="84.5" y2="76.3" stroke="#333" stroke-width="1.2" stroke-dasharray="3 2"/>
<text x="88.50" y="81.30" text-anchor="start" font-size="14" font-family="'Liberation Sans', sans-serif" font-weight="bold" stroke="#000" stroke-width="0.35" >65 °C</text>
<line x1="52" y1="93.7" x2="84.5" y2="93.7" stroke="#333" stroke-width="1.2" stroke-dasharray="1.8 5.1"/>
<text x="88.50" y="98.70" text-anchor="start" font-size="14" font-family="'Liberation Sans', sans-serif" font-weight="bold" stroke="#000" stroke-width="0.35" >85 °C</text>
<text x="164.30" y="22.80" text-anchor="start" font-size="14" font-family="'Liberation Sans', sans-serif" font-weight="bold" stroke="#000" stroke-width="0.35" >T</text>
<text x="172.30" y="28.60" text-anchor="start" font-size="9.5" font-family="'Liberation Sans', sans-serif" font-weight="bold" stroke="#000" stroke-width="0.35" >0</text>
<text x="177.00" y="22.80" text-anchor="start" font-size="14" font-family="'Liberation Sans', sans-serif" font-weight="bold" stroke="#000" stroke-width="0.35" >= 25°C</text>
<line x1="164" y1="40.6" x2="196.3" y2="40.6" stroke="#808000" stroke-width="1.4"/>
<text x="200.30" y="45.60" text-anchor="start" font-size="14" font-family="'Liberation Sans', sans-serif" font-weight="bold" stroke="#000" stroke-width="0.35" >0.6 W</text>
<line x1="164" y1="58.2" x2="196.3" y2="58.2" stroke="#0000ff" stroke-width="1.4"/>
<text x="200.30" y="63.20" text-anchor="start" font-size="14" font-family="'Liberation Sans', sans-serif" font-weight="bold" stroke="#000" stroke-width="0.35" >1.0 W</text>
<line x1="164" y1="75.8" x2="196.3" y2="75.8" stroke="#ff0000" stroke-width="1.4"/>
<text x="200.30" y="80.80" text-anchor="start" font-size="14" font-family="'Liberation Sans', sans-serif" font-weight="bold" stroke="#000" stroke-width="0.35" >1.5 W</text>
<line x1="164" y1="93.3" x2="196.3" y2="93.3" stroke="#333" stroke-width="1.4"/>
<text x="200.30" y="98.30" text-anchor="start" font-size="14" font-family="'Liberation Sans', sans-serif" font-weight="bold" stroke="#000" stroke-width="0.35" >2.0 W</text>
<line x1="46.4" y1="6.5" x2="242.6" y2="6.5" stroke="#333" stroke-width="1"/>
<line x1="46.4" y1="197.5" x2="242.6" y2="197.5" stroke="#333" stroke-width="1"/>
<line x1="47.0" y1="6.5" x2="47.0" y2="197.5" stroke="#3a3a3a" stroke-width="1.15"/>
<line x1="242.0" y1="6.5" x2="242.0" y2="197.5" stroke="#3a3a3a" stroke-width="1.15"/>
<line x1="269.4" y1="6.5" x2="302.6" y2="6.5" stroke="#333" stroke-width="1"/>
<line x1="269.4" y1="197.5" x2="302.6" y2="197.5" stroke="#333" stroke-width="1"/>
<line x1="270.0" y1="6.5" x2="270.0" y2="197.5" stroke="#3a3a3a" stroke-width="1.15"/>
<line x1="302.0" y1="6.5" x2="302.0" y2="197.5" stroke="#3a3a3a" stroke-width="1.15"/>
<line x1="43.0" y1="197.50" x2="47.0" y2="197.50" stroke="#000" stroke-width="1"/>
<line x1="44.7" y1="181.58" x2="47.0" y2="181.58" stroke="#000" stroke-width="1"/>
<line x1="43.0" y1="165.67" x2="47.0" y2="165.67" stroke="#000" stroke-width="1"/>
<line x1="44.7" y1="149.75" x2="47.0" y2="149.75" stroke="#000" stroke-width="1"/>
<line x1="43.0" y1="133.83" x2="47.0" y2="133.83" stroke="#000" stroke-width="1"/>
<line x1="44.7" y1="117.92" x2="47.0" y2="117.92" stroke="#000" stroke-width="1"/>
<line x1="43.0" y1="102.00" x2="47.0" y2="102.00" stroke="#000" stroke-width="1"/>
<line x1="44.7" y1="86.08" x2="47.0" y2="86.08" stroke="#000" stroke-width="1"/>
<line x1="43.0" y1="70.17" x2="47.0" y2="70.17" stroke="#000" stroke-width="1"/>
<line x1="44.7" y1="54.25" x2="47.0" y2="54.25" stroke="#000" stroke-width="1"/>
<line x1="43.0" y1="38.33" x2="47.0" y2="38.33" stroke="#000" stroke-width="1"/>
<line x1="44.7" y1="22.42" x2="47.0" y2="22.42" stroke="#000" stroke-width="1"/>
<line x1="43.0" y1="6.50" x2="47.0" y2="6.50" stroke="#000" stroke-width="1"/>
<line x1="47.00" y1="197.5" x2="47.00" y2="201.5" stroke="#000" stroke-width="1"/>
<line x1="63.25" y1="197.5" x2="63.25" y2="199.8" stroke="#000" stroke-width="1"/>
<line x1="79.50" y1="197.5" x2="79.50" y2="201.5" stroke="#000" stroke-width="1"/>
<line x1="95.75" y1="197.5" x2="95.75" y2="199.8" stroke="#000" stroke-width="1"/>
<line x1="112.00" y1="197.5" x2="112.00" y2="201.5" stroke="#000" stroke-width="1"/>
<line x1="128.25" y1="197.5" x2="128.25" y2="199.8" stroke="#000" stroke-width="1"/>
<line x1="144.50" y1="197.5" x2="144.50" y2="201.5" stroke="#000" stroke-width="1"/>
<line x1="160.75" y1="197.5" x2="160.75" y2="199.8" stroke="#000" stroke-width="1"/>
<line x1="177.00" y1="197.5" x2="177.00" y2="201.5" stroke="#000" stroke-width="1"/>
<line x1="193.25" y1="197.5" x2="193.25" y2="199.8" stroke="#000" stroke-width="1"/>
<line x1="209.50" y1="197.5" x2="209.50" y2="201.5" stroke="#000" stroke-width="1"/>
<line x1="225.75" y1="197.5" x2="225.75" y2="199.8" stroke="#000" stroke-width="1"/>
<line x1="242.00" y1="197.5" x2="242.00" y2="201.5" stroke="#000" stroke-width="1"/>
<line x1="270.00" y1="197.5" x2="270.00" y2="201.5" stroke="#000" stroke-width="1"/>
<line x1="286.00" y1="197.5" x2="286.00" y2="199.8" stroke="#000" stroke-width="1"/>
<line x1="302.00" y1="197.5" x2="302.00" y2="201.5" stroke="#000" stroke-width="1"/>
<line x1="302.0" y1="197.50" x2="306.0" y2="197.50" stroke="#000" stroke-width="1"/>
<line x1="302.0" y1="181.58" x2="304.3" y2="181.58" stroke="#000" stroke-width="1"/>
<line x1="302.0" y1="165.67" x2="306.0" y2="165.67" stroke="#000" stroke-width="1"/>
<line x1="302.0" y1="149.75" x2="304.3" y2="149.75" stroke="#000" stroke-width="1"/>
<line x1="302.0" y1="133.83" x2="306.0" y2="133.83" stroke="#000" stroke-width="1"/>
<line x1="302.0" y1="117.92" x2="304.3" y2="117.92" stroke="#000" stroke-width="1"/>
<line x1="302.0" y1="102.00" x2="306.0" y2="102.00" stroke="#000" stroke-width="1"/>
<line x1="302.0" y1="86.08" x2="304.3" y2="86.08" stroke="#000" stroke-width="1"/>
<line x1="302.0" y1="70.17" x2="306.0" y2="70.17" stroke="#000" stroke-width="1"/>
<line x1="302.0" y1="54.25" x2="304.3" y2="54.25" stroke="#000" stroke-width="1"/>
<line x1="302.0" y1="38.33" x2="306.0" y2="38.33" stroke="#000" stroke-width="1"/>
<line x1="302.0" y1="22.42" x2="304.3" y2="22.42" stroke="#000" stroke-width="1"/>
<line x1="302.0" y1="6.50" x2="306.0" y2="6.50" stroke="#000" stroke-width="1"/>
<text x="41.00" y="201.30" text-anchor="end" font-size="14" font-family="'Liberation Sans', sans-serif" font-weight="bold" stroke="#000" stroke-width="0.35" >0</text>
<text x="41.00" y="169.47" text-anchor="end" font-size="14" font-family="'Liberation Sans', sans-serif" font-weight="bold" stroke="#000" stroke-width="0.35" >100</text>
<text x="41.00" y="137.63" text-anchor="end" font-size="14" font-family="'Liberation Sans', sans-serif" font-weight="bold" stroke="#000" stroke-width="0.35" >200</text>
<text x="41.00" y="105.80" text-anchor="end" font-size="14" font-family="'Liberation Sans', sans-serif" font-weight="bold" stroke="#000" stroke-width="0.35" >300</text>
<text x="41.00" y="73.97" text-anchor="end" font-size="14" font-family="'Liberation Sans', sans-serif" font-weight="bold" stroke="#000" stroke-width="0.35" >400</text>
<text x="41.00" y="42.13" text-anchor="end" font-size="14" font-family="'Liberation Sans', sans-serif" font-weight="bold" stroke="#000" stroke-width="0.35" >500</text>
<text x="41.00" y="10.30" text-anchor="end" font-size="14" font-family="'Liberation Sans', sans-serif" font-weight="bold" stroke="#000" stroke-width="0.35" >600</text>
<text x="46.70" y="215.00" text-anchor="middle" font-size="14" font-family="'Liberation Sans', sans-serif" font-weight="bold" stroke="#000" stroke-width="0.35" >-6</text>
<text x="79.20" y="215.00" text-anchor="middle" font-size="14" font-family="'Liberation Sans', sans-serif" font-weight="bold" stroke="#000" stroke-width="0.35" >-4</text>
<text x="111.70" y="215.00" text-anchor="middle" font-size="14" font-family="'Liberation Sans', sans-serif" font-weight="bold" stroke="#000" stroke-width="0.35" >-2</text>
<text x="144.50" y="215.00" text-anchor="middle" font-size="14" font-family="'Liberation Sans', sans-serif" font-weight="bold" stroke="#000" stroke-width="0.35" >0</text>
<text x="177.00" y="215.00" text-anchor="middle" font-size="14" font-family="'Liberation Sans', sans-serif" font-weight="bold" stroke="#000" stroke-width="0.35" >2</text>
<text x="209.50" y="215.00" text-anchor="middle" font-size="14" font-family="'Liberation Sans', sans-serif" font-weight="bold" stroke="#000" stroke-width="0.35" >4</text>
<text x="242.00" y="215.00" text-anchor="middle" font-size="14" font-family="'Liberation Sans', sans-serif" font-weight="bold" stroke="#000" stroke-width="0.35" >6</text>
<text x="270.00" y="215.00" text-anchor="middle" font-size="14" font-family="'Liberation Sans', sans-serif" font-weight="bold" stroke="#000" stroke-width="0.35" >120</text>
<text x="302.00" y="215.00" text-anchor="middle" font-size="14" font-family="'Liberation Sans', sans-serif" font-weight="bold" stroke="#000" stroke-width="0.35" >122</text>
<text x="308.00" y="201.30" text-anchor="start" font-size="14" font-family="'Liberation Sans', sans-serif" font-weight="bold" stroke="#000" stroke-width="0.35" >20</text>
<text x="308.00" y="169.47" text-anchor="start" font-size="14" font-family="'Liberation Sans', sans-serif" font-weight="bold" stroke="#000" stroke-width="0.35" >40</text>
<text x="308.00" y="137.63" text-anchor="start" font-size="14" font-family="'Liberation Sans', sans-serif" font-weight="bold" stroke="#000" stroke-width="0.35" >60</text>
<text x="308.00" y="105.80" text-anchor="start" font-size="14" font-family="'Liberation Sans', sans-serif" font-weight="bold" stroke="#000" stroke-width="0.35" >80</text>
<text x="308.00" y="73.97" text-anchor="start" font-size="14" font-family="'Liberation Sans', sans-serif" font-weight="bold" stroke="#000" stroke-width="0.35" >100</text>
<text x="308.00" y="42.13" text-anchor="start" font-size="14" font-family="'Liberation Sans', sans-serif" font-weight="bold" stroke="#000" stroke-width="0.35" >120</text>
<text x="308.00" y="10.30" text-anchor="start" font-size="14" font-family="'Liberation Sans', sans-serif" font-weight="bold" stroke="#000" stroke-width="0.35" >140</text>
<text x="163.30" y="233.30" text-anchor="start" font-size="14.5" font-family="'Liberation Sans', sans-serif" font-weight="bold" stroke="#000" stroke-width="0.35" >x</text>
<text x="171.40" y="239.80" text-anchor="start" font-size="10.5" font-family="'Liberation Sans', sans-serif" font-weight="bold" stroke="#000" stroke-width="0.35" >s</text>
<text x="180.90" y="233.30" text-anchor="start" font-size="14.5" font-family="'Liberation Sans', sans-serif" font-weight="bold" stroke="#000" stroke-width="0.35" >(<tspan font-weight="normal" stroke-width="0.2">μ</tspan><tspan dx="0.7">m)</tspan></text>
<text transform="translate(10.75,126.77) rotate(-90)" font-size="15.5" font-family="'Liberation Sans', sans-serif" font-weight="bold" stroke="#000" stroke-width="0.35">T</text>
<text transform="translate(16.35,116.30) rotate(-90)" font-size="10.3" font-family="'Liberation Sans', sans-serif" font-weight="bold" stroke="#000" stroke-width="0.35">c</text>
<text transform="translate(10.75,105.28) rotate(-90)" font-size="15.5" font-family="'Liberation Sans', sans-serif" font-weight="bold" stroke="#000" stroke-width="0.35">(</text>
<text transform="translate(9.75,100.55) rotate(-90)" font-size="14" font-family="'Liberation Sans', sans-serif" font-weight="bold" stroke="#000" stroke-width="0.35">°</text>
<text transform="translate(10.75,93.84) rotate(-90)" font-size="15.5" font-family="'Liberation Sans', sans-serif" font-weight="bold" stroke="#000" stroke-width="0.35">C</text>
<text transform="translate(10.75,77.90) rotate(-90)" font-size="15.5" font-family="'Liberation Sans', sans-serif" font-weight="bold" stroke="#000" stroke-width="0.35">)</text>
<text transform="translate(335.60,135.57) rotate(-90)" font-size="15.5" font-family="'Liberation Sans', sans-serif" font-weight="bold" stroke="#000" stroke-width="0.35">T</text>
<text transform="translate(341.20,125.10) rotate(-90)" font-size="10.3" font-family="'Liberation Sans', sans-serif" font-weight="bold" stroke="#000" stroke-width="0.35">c</text>
<text transform="translate(335.60,114.08) rotate(-90)" font-size="15.5" font-family="'Liberation Sans', sans-serif" font-weight="bold" stroke="#000" stroke-width="0.35">(</text>
<text transform="translate(334.60,109.35) rotate(-90)" font-size="14" font-family="'Liberation Sans', sans-serif" font-weight="bold" stroke="#000" stroke-width="0.35">°</text>
<text transform="translate(335.60,102.64) rotate(-90)" font-size="15.5" font-family="'Liberation Sans', sans-serif" font-weight="bold" stroke="#000" stroke-width="0.35">C</text>
<text transform="translate(335.60,86.70) rotate(-90)" font-size="15.5" font-family="'Liberation Sans', sans-serif" font-weight="bold" stroke="#000" stroke-width="0.35">)</text>
</svg>
</body></html>
